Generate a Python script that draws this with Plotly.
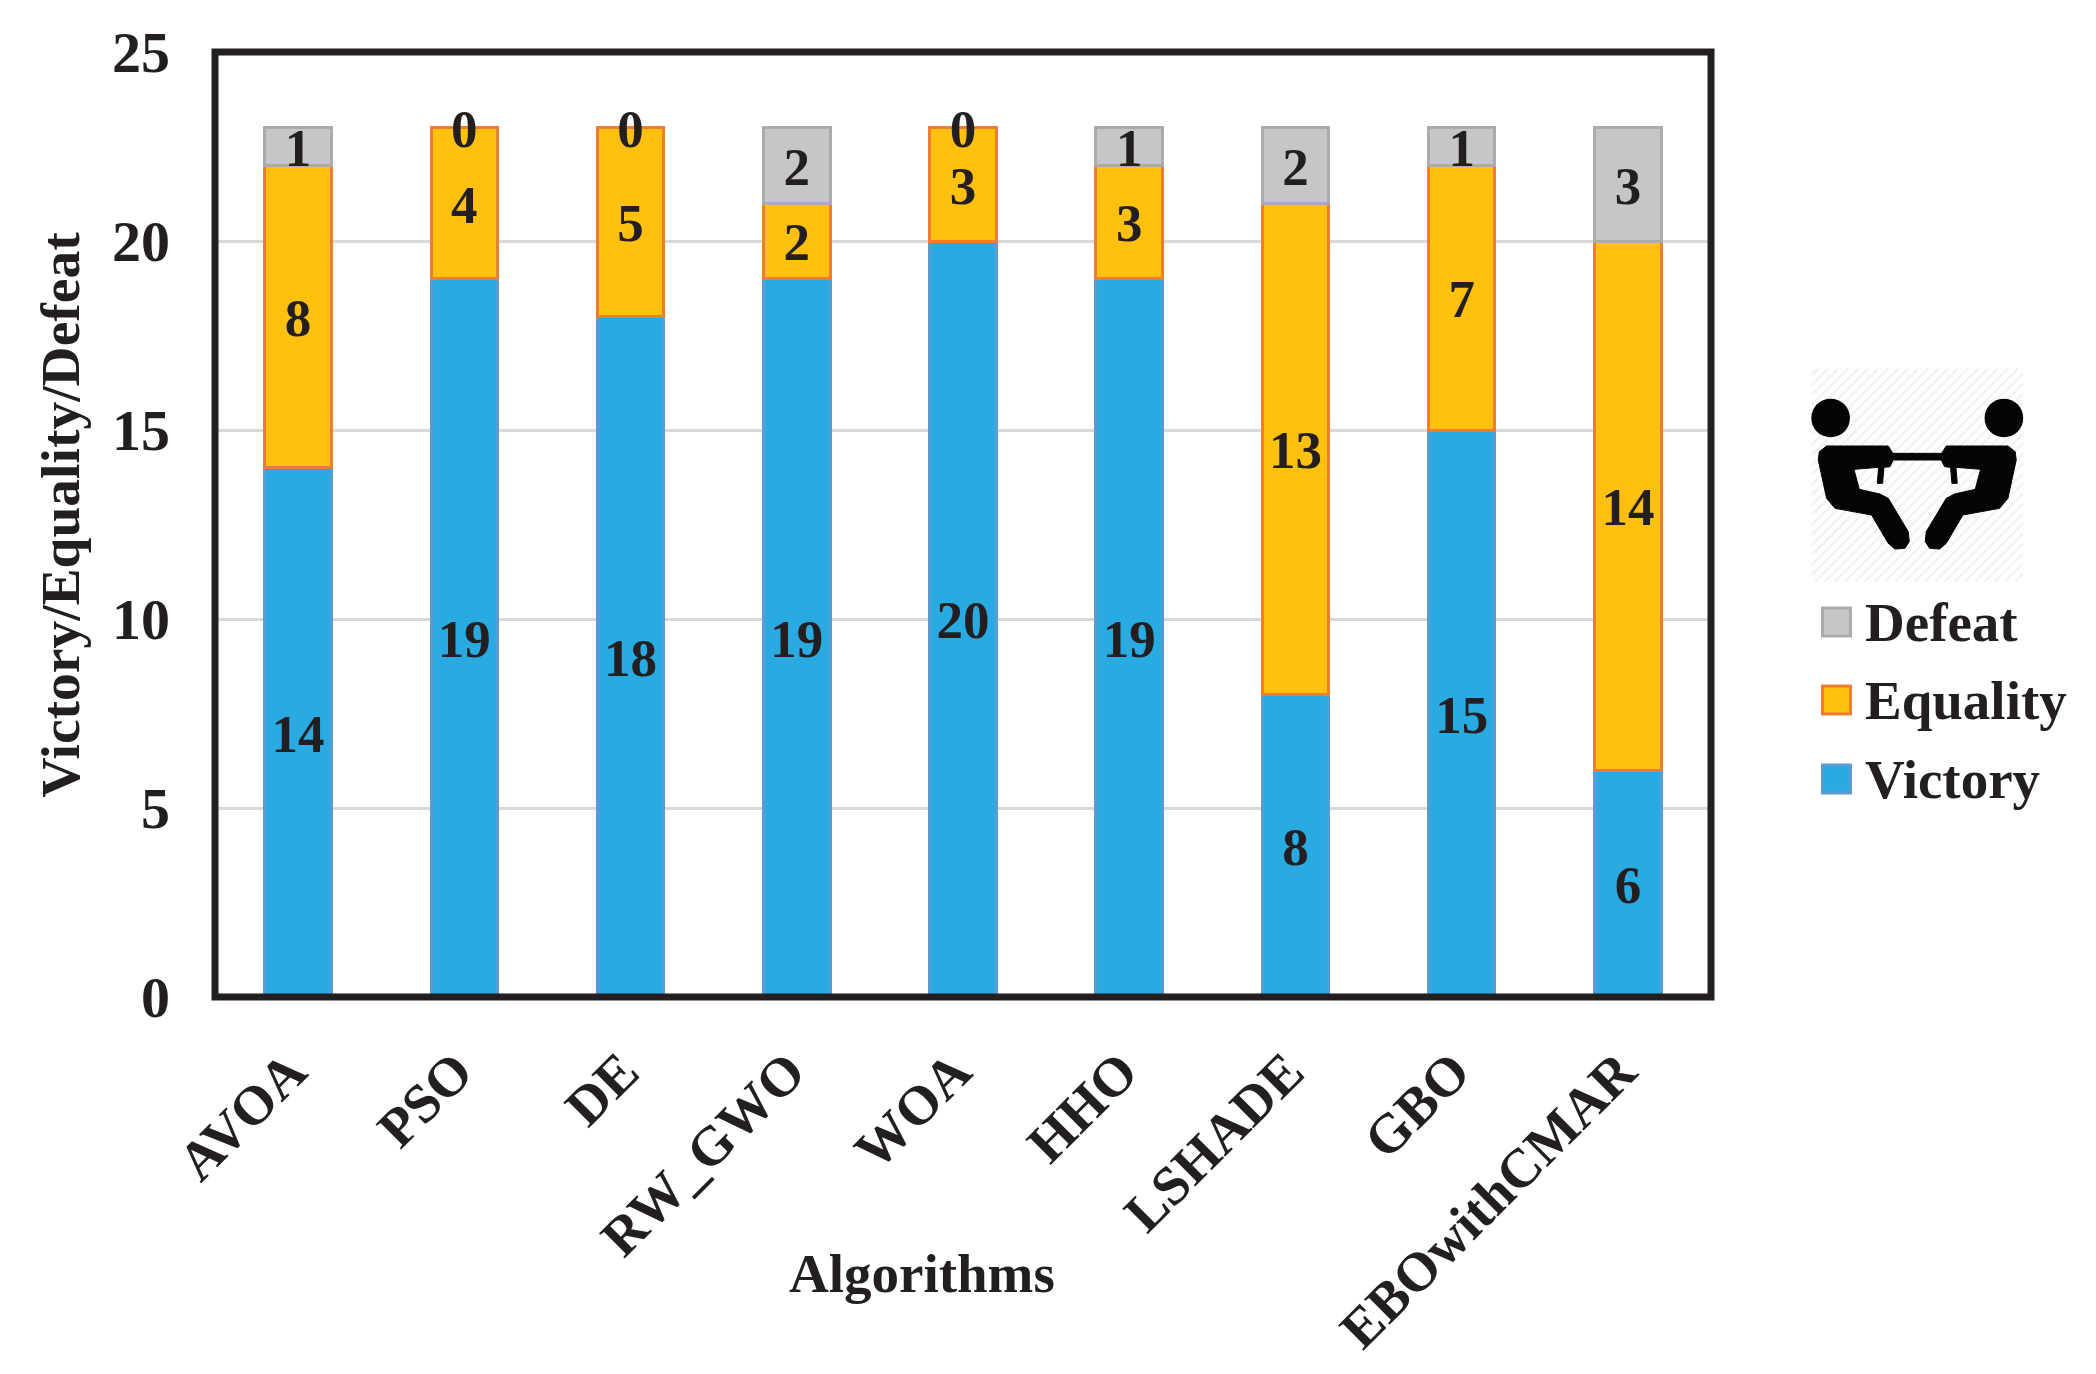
import plotly.graph_objects as go

algorithms = ["AVOA", "PSO", "DE", "RW_GWO", "WOA", "HHO", "LSHADE", "GBO", "EBOwithCMAR"]
victory = [14, 19, 18, 19, 20, 19, 8, 15, 6]
equality = [8, 4, 5, 2, 3, 3, 13, 7, 14]
defeat = [1, 0, 0, 2, 0, 1, 2, 1, 3]

# the page keeps its 8px body margin, so the figure is 16px smaller than the window
PAGE = 8
W, H = 2096 - 2 * PAGE, 1374 - 2 * PAGE
L, R, T, B = 214.5, 1711, 52, 997
INK = "#231f20"
FONT = "Liberation Serif"


def px(x):
    return (x - L) / (R - L)


def py(y):
    return (B - y) / (B - T)


fig = go.Figure()

# stacked bars, thin border like the excel original
for name, vals, fill, edge in [("Victory", victory, "#29abe2", "#5b9bd5"),
                               ("Equality", equality, "#ffc00f", "#ed7d31"),
                               ("Defeat", defeat, "#c6c6c6", "#a9abae")]:
    fig.add_trace(go.Bar(x=algorithms, y=vals, name=name, showlegend=False,
                         marker=dict(color=fill, line=dict(color=edge, width=[3 if v else 0 for v in vals]))))

# value labels sit mid-segment, the zeros end up on the top edge
# they go on a hidden y2 that is a few pixels off, the digits sit a bit low in the original
base = [0] * len(algorithms)
for vals in [victory, equality, defeat]:
    mid = [b + v / 2 for b, v in zip(base, vals)]
    fig.add_trace(go.Scatter(x=algorithms, y=mid, yaxis="y2", mode="text", text=[str(v) for v in vals],
                             textposition="middle center", showlegend=False, cliponaxis=False,
                             textfont=dict(family=FONT, size=53, color=INK, weight="bold")))
    base = [b + v for b, v in zip(base, vals)]

shapes = [dict(type="rect", xref="paper", yref="paper", x0=0, x1=1, y0=0, y1=1,
               line=dict(color=INK, width=7), layer="above")]

# pictogram, coordinates are in the 3x crop of the icon
ox, oy = 1780, 350


def zx(x):
    return px(ox + x / 3)


def zy(y):
    return py(oy + y / 3)


def zpath(points):
    return "M" + "L".join(f"{zx(x):.5f},{zy(y):.5f}" for x, y in points) + "Z"


# hatch behind the icon
bx0, bx1, by0, by1 = 95, 730, 55, 695
for c in range(bx0 + by0 + 20, bx1 + by1, 30):
    x_a = max(bx0, c - by1)
    x_b = min(bx1, c - by0)
    shapes.append(dict(type="line", xref="paper", yref="paper", x0=zx(x_a), y0=zy(c - x_a), x1=zx(x_b), y1=zy(c - x_b),
                       line=dict(color="#f0f0f0", width=2), layer="below"))

body = [(140, 288), (325, 288), (345, 320), (330, 350), (312, 352), (308, 400), (292, 400), (296, 352),
        (222, 358), (238, 418), (300, 432), (325, 445), (385, 545), (388, 575), (375, 595), (345, 597), (325, 580),
        (275, 495), (165, 475), (140, 445), (115, 330), (118, 305)]
for pts in [body, [(824 - x, y) for x, y in body], [(340, 310), (485, 310), (485, 330), (340, 330)]]:
    shapes.append(dict(type="path", xref="paper", yref="paper", path=zpath(pts),
                       fillcolor="#050505", line=dict(color="#050505", width=1)))
for cx in [152, 672]:
    shapes.append(dict(type="circle", xref="paper", yref="paper", x0=zx(cx - 58), x1=zx(cx + 58),
                       y0=zy(204 + 58), y1=zy(204 - 58), fillcolor="#050505", line=dict(width=0)))

annotations = [
    dict(text="<b>Algorithms</b>", xref="paper", yref="paper", x=px(922), y=py(1273), showarrow=False,
         xanchor="center", yanchor="middle", font=dict(family=FONT, size=55, color=INK)),
    dict(text="<b>Victory/Equality/Defeat</b>", xref="paper", yref="paper", x=px(60), y=py(515), showarrow=False,
         xanchor="center", yanchor="middle", textangle=-90, font=dict(family=FONT, size=55.5, color=INK)),
]

# hand made legend, plotly's bar swatches can't be this big
for label, fill, edge, yc in [("Defeat", "#c6c6c6", "#a9abae", 622),
                              ("Equality", "#ffc00f", "#ed7d31", 700),
                              ("Victory", "#29abe2", "#5b9bd5", 779)]:
    shapes.append(dict(type="rect", xref="paper", yref="paper", x0=px(1822.5), x1=px(1850.5),
                       y0=py(yc + 14), y1=py(yc - 14), fillcolor=fill, line=dict(color=edge, width=3)))
    annotations.append(dict(text=f"<b>{label}</b>", xref="paper", yref="paper", x=px(1863), y=py(yc),
                            xanchor="left", yanchor="middle", showarrow=False,
                            font=dict(family=FONT, size=55, color=INK)))

fig.update_layout(
    width=W, height=H, barmode="stack", bargap=0.6, showlegend=False,
    margin=dict(l=L - PAGE, r=W + PAGE - R, t=T - PAGE, b=H + PAGE - B, autoexpand=False),
    paper_bgcolor="white", plot_bgcolor="white",
    font=dict(family=FONT, color=INK),
    shapes=shapes, annotations=annotations,
    xaxis=dict(tickangle=-45, showgrid=False, ticks="", showline=False, ticklabelstandoff=30, ticklabelshift=-8,
               tickfont=dict(family=FONT, size=55, color=INK, weight="bold")),
    yaxis=dict(range=[0, 25], dtick=5, showline=False, zeroline=False, ticks="", ticklabelstandoff=44,
               gridcolor="#d9d9d9", gridwidth=3,
               tickfont=dict(family=FONT, size=58, color=INK, weight="bold")),
    yaxis2=dict(range=[0.16, 25.16], overlaying="y", visible=False),
)

fig.write_html("out.html")
